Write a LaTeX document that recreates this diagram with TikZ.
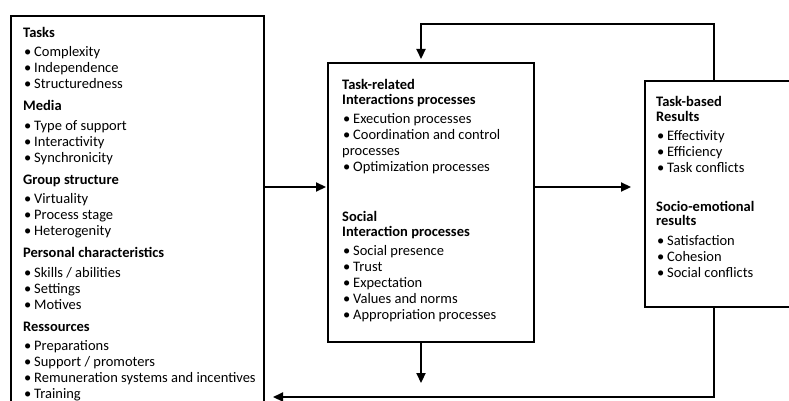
\documentclass[tikz,border=0pt]{standalone}
\usepackage{fontspec}
\setmainfont{Carlito}
\usetikzlibrary{arrows.meta,positioning,calc}

\newcommand{\itm}[1]{\makebox[11pt][l]{\hspace{1pt}\textbullet}#1}
\newcommand{\topline}{\rule{0pt}{12pt}}

\begin{document}
\begin{tikzpicture}[x=1pt,y=-1pt,
    box/.style={draw,line width=2.4pt,inner sep=0pt,anchor=north west},
    txt/.style={anchor=north west,align=left,inner sep=0pt,font=\fontsize{14.5}{16}\selectfont},
    flow/.style={line width=2.2pt,-{Triangle[length=10pt,width=9pt]}}]
    \useasboundingbox (0,0) rectangle (789,401);

    % boxes
    \node[box,minimum width=253pt,minimum height=420pt] (inputs) at (10,15) {};
    \node[box,minimum width=206pt,minimum height=279pt] (process) at (327,62) {};
    \node[box,minimum width=160pt,minimum height=226pt] (results) at (644,80) {};

    % input factors
    \node[txt] (inputtext) at (23,25) {\topline\textbf{Tasks}\\[3.5pt]
        \itm{Complexity}\\ \itm{Independence}\\ \itm{Structuredness}\\[6pt]
        \textbf{Media}\\[3.5pt]
        \itm{Type of support}\\ \itm{Interactivity}\\ \itm{Synchronicity}\\[6pt]
        \textbf{Group structure}\\[3.5pt]
        \itm{Virtuality}\\ \itm{Process stage}\\ \itm{Heterogenity}\\[6pt]
        \textbf{Personal characteristics}\\[3.5pt]
        \itm{Skills / abilities}\\ \itm{Settings}\\ \itm{Motives}\\[6pt]
        \textbf{Ressources}\\[3.5pt]
        \itm{Preparations}\\ \itm{Support / promoters}\\ \itm{Remuneration systems and incentives}\\ \itm{Training}};

    % interaction processes
    \node[txt] (tasktext) at (342,77) {\topline\textbf{Task-related}\\[-1pt]
        \textbf{Interactions processes}\\[3pt]
        \itm{Execution processes}\\ \itm{Coordination and control}\\ processes\\ \itm{Optimization processes}};
    \node[txt] (socialtext) at (342,209) {\topline\textbf{Social}\\[-1pt]
        \textbf{Interaction processes}\\[3pt]
        \itm{Social presence}\\ \itm{Trust}\\ \itm{Expectation}\\ \itm{Values and norms}\\ \itm{Appropriation processes}};

    % results
    \node[txt] (taskres) at (656,94) {\topline\textbf{Task-based}\\[-1pt]
        \textbf{Results}\\[3pt]
        \itm{Effectivity}\\ \itm{Efficiency}\\ \itm{Task conflicts}};
    \node[txt] (socialres) at (656,199) {\topline\textbf{Socio-emotional}\\[-2pt]
        \textbf{results}\\[4pt]
        \itm{Satisfaction}\\ \itm{Cohesion}\\ \itm{Social conflicts}};

    % arrows
    \coordinate (inrow) at (0,187);
    \coordinate (fbr) at (714,24); \coordinate (fbl) at (421,24);
    \coordinate (btr) at (714,397); \coordinate (btl) at (273,397);
    \coordinate (outend) at (421,383);
    \draw[flow,shorten >=1pt] (inputs.east |- inrow) -- (process.west |- inrow);
    \draw[flow,shorten >=13pt] (process.east |- inrow) -- (results.west |- inrow);
    \draw[flow,shorten >=3pt] (results.north -| fbr) -- (fbr) -- (fbl) -- (process.north -| fbl);
    \draw[flow] (results.south -| btr) -- (btr) -- (btl);
    \draw[flow] (process.south -| outend) -- (outend);
\end{tikzpicture}
\end{document}
